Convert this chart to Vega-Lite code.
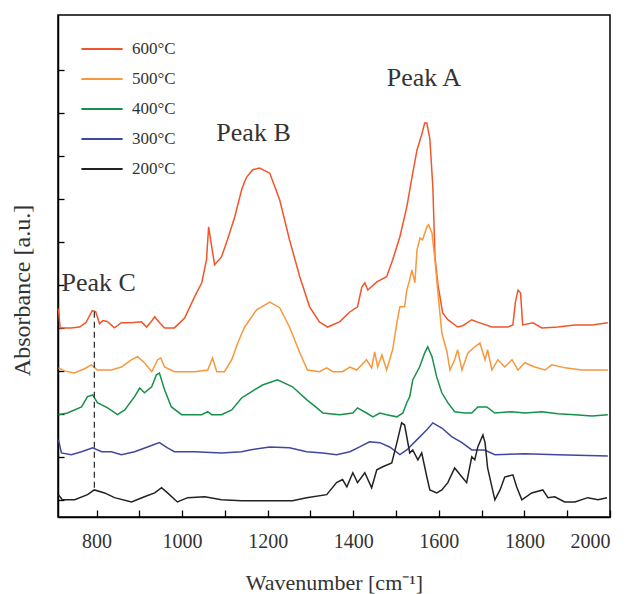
{
"$schema": "https://vega.github.io/schema/vega-lite/v6.json",
"width": 552, "height": 502,
"autosize": {"type": "none"},
"padding": {"left": 58, "top": 15, "right": 25, "bottom": 77},
"background": "white",
"config": {
  "view": {"stroke": "black", "strokeWidth": 1.5},
  "axis": {"domainColor": "black", "domainWidth": 1.5, "tickColor": "black", "tickWidth": 1.3, "grid": false}
},
"datasets": {
"spectra": [
{"t":"600°C","wn":711,"a":4.45},{"t":"600°C","wn":715,"a":4.0},{"t":"600°C","wn":740,"a":4.0},{"t":"600°C","wn":760,"a":4.02},{"t":"600°C","wn":775,"a":4.12},{"t":"600°C","wn":790,"a":4.40},{"t":"600°C","wn":798,"a":4.38},{"t":"600°C","wn":807,"a":4.10},{"t":"600°C","wn":815,"a":4.17},{"t":"600°C","wn":825,"a":4.15},{"t":"600°C","wn":842,"a":4.00},{"t":"600°C","wn":858,"a":4.12},{"t":"600°C","wn":880,"a":4.12},{"t":"600°C","wn":905,"a":4.14},{"t":"600°C","wn":917,"a":4.02},{"t":"600°C","wn":928,"a":4.15},{"t":"600°C","wn":936,"a":4.26},{"t":"600°C","wn":945,"a":4.15},{"t":"600°C","wn":959,"a":4.00},{"t":"600°C","wn":982,"a":4.00},{"t":"600°C","wn":1006,"a":4.23},{"t":"600°C","wn":1029,"a":4.72},{"t":"600°C","wn":1046,"a":5.05},{"t":"600°C","wn":1057,"a":5.58},{"t":"600°C","wn":1062,"a":6.35},{"t":"600°C","wn":1069,"a":5.9},{"t":"600°C","wn":1076,"a":5.47},{"t":"600°C","wn":1092,"a":5.65},{"t":"600°C","wn":1106,"a":6.05},{"t":"600°C","wn":1123,"a":6.58},{"t":"600°C","wn":1139,"a":7.21},{"t":"600°C","wn":1146,"a":7.40},{"t":"600°C","wn":1151,"a":7.51},{"t":"600°C","wn":1165,"a":7.68},{"t":"600°C","wn":1181,"a":7.72},{"t":"600°C","wn":1205,"a":7.60},{"t":"600°C","wn":1228,"a":6.98},{"t":"600°C","wn":1251,"a":6.05},{"t":"600°C","wn":1275,"a":5.19},{"t":"600°C","wn":1298,"a":4.49},{"t":"600°C","wn":1321,"a":4.14},{"t":"600°C","wn":1340,"a":4.02},{"t":"600°C","wn":1368,"a":4.14},{"t":"600°C","wn":1392,"a":4.37},{"t":"600°C","wn":1410,"a":4.49},{"t":"600°C","wn":1420,"a":4.95},{"t":"600°C","wn":1427,"a":5.05},{"t":"600°C","wn":1434,"a":4.88},{"t":"600°C","wn":1455,"a":5.07},{"t":"600°C","wn":1478,"a":5.19},{"t":"600°C","wn":1492,"a":5.58},{"t":"600°C","wn":1509,"a":6.12},{"t":"600°C","wn":1525,"a":6.81},{"t":"600°C","wn":1539,"a":7.60},{"t":"600°C","wn":1549,"a":8.14},{"t":"600°C","wn":1560,"a":8.5},{"t":"600°C","wn":1567,"a":8.77},{"t":"600°C","wn":1572,"a":8.77},{"t":"600°C","wn":1579,"a":8.40},{"t":"600°C","wn":1586,"a":7.28},{"t":"600°C","wn":1591,"a":5.65},{"t":"600°C","wn":1598,"a":5.0},{"t":"600°C","wn":1609,"a":4.35},{"t":"600°C","wn":1621,"a":4.19},{"t":"600°C","wn":1644,"a":4.02},{"t":"600°C","wn":1656,"a":4.05},{"t":"600°C","wn":1677,"a":4.19},{"t":"600°C","wn":1689,"a":4.14},{"t":"600°C","wn":1724,"a":4.02},{"t":"600°C","wn":1761,"a":4.02},{"t":"600°C","wn":1773,"a":4.07},{"t":"600°C","wn":1779,"a":4.6},{"t":"600°C","wn":1785,"a":4.88},{"t":"600°C","wn":1791,"a":4.81},{"t":"600°C","wn":1796,"a":4.07},{"t":"600°C","wn":1820,"a":4.12},{"t":"600°C","wn":1841,"a":4.00},{"t":"600°C","wn":1878,"a":4.02},{"t":"600°C","wn":1918,"a":4.07},{"t":"600°C","wn":1958,"a":4.07},{"t":"600°C","wn":1995,"a":4.12},

{"t":"500°C","wn":711,"a":3.07},{"t":"500°C","wn":725,"a":3.0},{"t":"500°C","wn":748,"a":2.95},{"t":"500°C","wn":772,"a":3.05},{"t":"500°C","wn":788,"a":3.14},{"t":"500°C","wn":802,"a":3.02},{"t":"500°C","wn":835,"a":3.02},{"t":"500°C","wn":858,"a":3.09},{"t":"500°C","wn":882,"a":3.26},{"t":"500°C","wn":896,"a":3.33},{"t":"500°C","wn":912,"a":3.19},{"t":"500°C","wn":929,"a":2.98},{"t":"500°C","wn":943,"a":3.26},{"t":"500°C","wn":950,"a":3.3},{"t":"500°C","wn":959,"a":3.09},{"t":"500°C","wn":982,"a":2.98},{"t":"500°C","wn":1029,"a":2.98},{"t":"500°C","wn":1060,"a":3.02},{"t":"500°C","wn":1071,"a":3.30},{"t":"500°C","wn":1081,"a":2.98},{"t":"500°C","wn":1099,"a":2.98},{"t":"500°C","wn":1116,"a":3.26},{"t":"500°C","wn":1130,"a":3.65},{"t":"500°C","wn":1146,"a":4.02},{"t":"500°C","wn":1158,"a":4.19},{"t":"500°C","wn":1174,"a":4.42},{"t":"500°C","wn":1205,"a":4.60},{"t":"500°C","wn":1228,"a":4.47},{"t":"500°C","wn":1251,"a":4.02},{"t":"500°C","wn":1275,"a":3.42},{"t":"500°C","wn":1293,"a":3.02},{"t":"500°C","wn":1321,"a":2.98},{"t":"500°C","wn":1338,"a":3.07},{"t":"500°C","wn":1352,"a":2.98},{"t":"500°C","wn":1375,"a":2.98},{"t":"500°C","wn":1392,"a":3.09},{"t":"500°C","wn":1408,"a":3.02},{"t":"500°C","wn":1431,"a":3.26},{"t":"500°C","wn":1443,"a":3.07},{"t":"500°C","wn":1450,"a":3.44},{"t":"500°C","wn":1457,"a":3.09},{"t":"500°C","wn":1467,"a":3.37},{"t":"500°C","wn":1478,"a":3.02},{"t":"500°C","wn":1492,"a":3.49},{"t":"500°C","wn":1502,"a":4.12},{"t":"500°C","wn":1509,"a":4.49},{"t":"500°C","wn":1520,"a":4.49},{"t":"500°C","wn":1525,"a":4.88},{"t":"500°C","wn":1532,"a":5.12},{"t":"500°C","wn":1537,"a":5.35},{"t":"500°C","wn":1544,"a":5.05},{"t":"500°C","wn":1549,"a":5.81},{"t":"500°C","wn":1556,"a":6.09},{"t":"500°C","wn":1562,"a":6.05},{"t":"500°C","wn":1572,"a":6.35},{"t":"500°C","wn":1576,"a":6.40},{"t":"500°C","wn":1584,"a":6.21},{"t":"500°C","wn":1591,"a":5.58},{"t":"500°C","wn":1598,"a":4.81},{"t":"500°C","wn":1607,"a":3.88},{"t":"500°C","wn":1619,"a":3.44},{"t":"500°C","wn":1626,"a":3.02},{"t":"500°C","wn":1637,"a":3.26},{"t":"500°C","wn":1644,"a":3.49},{"t":"500°C","wn":1654,"a":3.02},{"t":"500°C","wn":1668,"a":3.42},{"t":"500°C","wn":1684,"a":3.56},{"t":"500°C","wn":1696,"a":3.65},{"t":"500°C","wn":1708,"a":3.26},{"t":"500°C","wn":1714,"a":3.49},{"t":"500°C","wn":1724,"a":3.02},{"t":"500°C","wn":1738,"a":3.26},{"t":"500°C","wn":1754,"a":3.09},{"t":"500°C","wn":1771,"a":3.26},{"t":"500°C","wn":1785,"a":3.02},{"t":"500°C","wn":1801,"a":3.19},{"t":"500°C","wn":1824,"a":3.09},{"t":"500°C","wn":1848,"a":3.02},{"t":"500°C","wn":1864,"a":3.14},{"t":"500°C","wn":1895,"a":3.07},{"t":"500°C","wn":1934,"a":3.02},{"t":"500°C","wn":1972,"a":3.02},{"t":"500°C","wn":1995,"a":3.02},

{"t":"400°C","wn":711,"a":1.98},{"t":"400°C","wn":732,"a":2.02},{"t":"400°C","wn":765,"a":2.16},{"t":"400°C","wn":779,"a":2.40},{"t":"400°C","wn":791,"a":2.44},{"t":"400°C","wn":802,"a":2.26},{"t":"400°C","wn":826,"a":2.14},{"t":"400°C","wn":849,"a":1.98},{"t":"400°C","wn":866,"a":2.09},{"t":"400°C","wn":889,"a":2.40},{"t":"400°C","wn":901,"a":2.60},{"t":"400°C","wn":912,"a":2.49},{"t":"400°C","wn":929,"a":2.63},{"t":"400°C","wn":940,"a":2.91},{"t":"400°C","wn":947,"a":2.95},{"t":"400°C","wn":959,"a":2.56},{"t":"400°C","wn":975,"a":2.16},{"t":"400°C","wn":999,"a":1.98},{"t":"400°C","wn":1046,"a":1.98},{"t":"400°C","wn":1060,"a":2.05},{"t":"400°C","wn":1069,"a":1.98},{"t":"400°C","wn":1092,"a":1.98},{"t":"400°C","wn":1116,"a":2.09},{"t":"400°C","wn":1139,"a":2.37},{"t":"400°C","wn":1158,"a":2.49},{"t":"400°C","wn":1188,"a":2.67},{"t":"400°C","wn":1223,"a":2.79},{"t":"400°C","wn":1258,"a":2.63},{"t":"400°C","wn":1291,"a":2.33},{"t":"400°C","wn":1315,"a":2.14},{"t":"400°C","wn":1329,"a":2.02},{"t":"400°C","wn":1368,"a":1.98},{"t":"400°C","wn":1399,"a":2.02},{"t":"400°C","wn":1410,"a":2.14},{"t":"400°C","wn":1431,"a":2.02},{"t":"400°C","wn":1446,"a":1.93},{"t":"400°C","wn":1462,"a":2.02},{"t":"400°C","wn":1478,"a":1.98},{"t":"400°C","wn":1502,"a":1.93},{"t":"400°C","wn":1516,"a":2.02},{"t":"400°C","wn":1525,"a":2.26},{"t":"400°C","wn":1532,"a":2.40},{"t":"400°C","wn":1539,"a":2.79},{"t":"400°C","wn":1555,"a":3.09},{"t":"400°C","wn":1567,"a":3.42},{"t":"400°C","wn":1574,"a":3.56},{"t":"400°C","wn":1584,"a":3.33},{"t":"400°C","wn":1595,"a":2.86},{"t":"400°C","wn":1607,"a":2.49},{"t":"400°C","wn":1621,"a":2.26},{"t":"400°C","wn":1637,"a":2.05},{"t":"400°C","wn":1660,"a":2.02},{"t":"400°C","wn":1677,"a":2.02},{"t":"400°C","wn":1691,"a":2.16},{"t":"400°C","wn":1712,"a":2.16},{"t":"400°C","wn":1731,"a":2.02},{"t":"400°C","wn":1770,"a":2.05},{"t":"400°C","wn":1801,"a":2.02},{"t":"400°C","wn":1841,"a":2.05},{"t":"400°C","wn":1878,"a":2.00},{"t":"400°C","wn":1918,"a":1.98},{"t":"400°C","wn":1958,"a":1.95},{"t":"400°C","wn":1995,"a":1.98},

{"t":"300°C","wn":711,"a":1.40},{"t":"300°C","wn":718,"a":1.09},{"t":"300°C","wn":741,"a":1.05},{"t":"300°C","wn":765,"a":1.12},{"t":"300°C","wn":791,"a":1.21},{"t":"300°C","wn":812,"a":1.12},{"t":"300°C","wn":835,"a":1.12},{"t":"300°C","wn":858,"a":1.05},{"t":"300°C","wn":889,"a":1.12},{"t":"300°C","wn":919,"a":1.23},{"t":"300°C","wn":947,"a":1.33},{"t":"300°C","wn":966,"a":1.21},{"t":"300°C","wn":982,"a":1.12},{"t":"300°C","wn":1029,"a":1.12},{"t":"300°C","wn":1092,"a":1.09},{"t":"300°C","wn":1139,"a":1.12},{"t":"300°C","wn":1158,"a":1.16},{"t":"300°C","wn":1205,"a":1.23},{"t":"300°C","wn":1251,"a":1.21},{"t":"300°C","wn":1291,"a":1.12},{"t":"300°C","wn":1329,"a":1.09},{"t":"300°C","wn":1361,"a":1.05},{"t":"300°C","wn":1392,"a":1.12},{"t":"300°C","wn":1415,"a":1.23},{"t":"300°C","wn":1438,"a":1.35},{"t":"300°C","wn":1462,"a":1.33},{"t":"300°C","wn":1485,"a":1.23},{"t":"300°C","wn":1509,"a":1.05},{"t":"300°C","wn":1525,"a":1.16},{"t":"300°C","wn":1549,"a":1.40},{"t":"300°C","wn":1572,"a":1.63},{"t":"300°C","wn":1586,"a":1.79},{"t":"300°C","wn":1607,"a":1.67},{"t":"300°C","wn":1630,"a":1.47},{"t":"300°C","wn":1654,"a":1.33},{"t":"300°C","wn":1677,"a":1.16},{"t":"300°C","wn":1707,"a":1.16},{"t":"300°C","wn":1731,"a":1.05},{"t":"300°C","wn":1801,"a":1.07},{"t":"300°C","wn":1878,"a":1.05},{"t":"300°C","wn":1995,"a":1.02},

{"t":"200°C","wn":711,"a":0.12},{"t":"200°C","wn":720,"a":0.00},{"t":"200°C","wn":749,"a":0.00},{"t":"200°C","wn":779,"a":0.12},{"t":"200°C","wn":795,"a":0.23},{"t":"200°C","wn":819,"a":0.16},{"t":"200°C","wn":842,"a":0.05},{"t":"200°C","wn":882,"a":-0.05},{"t":"200°C","wn":912,"a":0.07},{"t":"200°C","wn":936,"a":0.16},{"t":"200°C","wn":952,"a":0.28},{"t":"200°C","wn":966,"a":0.16},{"t":"200°C","wn":989,"a":-0.05},{"t":"200°C","wn":1013,"a":0.05},{"t":"200°C","wn":1053,"a":0.07},{"t":"200°C","wn":1092,"a":0.00},{"t":"200°C","wn":1139,"a":-0.02},{"t":"200°C","wn":1258,"a":-0.02},{"t":"200°C","wn":1291,"a":0.05},{"t":"200°C","wn":1338,"a":0.12},{"t":"200°C","wn":1361,"a":0.40},{"t":"200°C","wn":1375,"a":0.47},{"t":"200°C","wn":1385,"a":0.30},{"t":"200°C","wn":1399,"a":0.63},{"t":"200°C","wn":1410,"a":0.40},{"t":"200°C","wn":1427,"a":0.63},{"t":"200°C","wn":1443,"a":0.28},{"t":"200°C","wn":1455,"a":0.70},{"t":"200°C","wn":1469,"a":0.77},{"t":"200°C","wn":1490,"a":0.86},{"t":"200°C","wn":1502,"a":1.33},{"t":"200°C","wn":1513,"a":1.79},{"t":"200°C","wn":1520,"a":1.74},{"t":"200°C","wn":1532,"a":1.09},{"t":"200°C","wn":1539,"a":1.16},{"t":"200°C","wn":1551,"a":0.93},{"t":"200°C","wn":1560,"a":1.09},{"t":"200°C","wn":1572,"a":0.53},{"t":"200°C","wn":1579,"a":0.23},{"t":"200°C","wn":1595,"a":0.16},{"t":"200°C","wn":1607,"a":0.23},{"t":"200°C","wn":1621,"a":0.40},{"t":"200°C","wn":1637,"a":0.74},{"t":"200°C","wn":1654,"a":0.53},{"t":"200°C","wn":1665,"a":0.40},{"t":"200°C","wn":1677,"a":1.00},{"t":"200°C","wn":1684,"a":0.93},{"t":"200°C","wn":1691,"a":1.23},{"t":"200°C","wn":1703,"a":1.51},{"t":"200°C","wn":1708,"a":1.33},{"t":"200°C","wn":1714,"a":0.74},{"t":"200°C","wn":1724,"a":0.30},{"t":"200°C","wn":1731,"a":0.00},{"t":"200°C","wn":1743,"a":0.23},{"t":"200°C","wn":1754,"a":0.53},{"t":"200°C","wn":1773,"a":0.58},{"t":"200°C","wn":1782,"a":0.30},{"t":"200°C","wn":1794,"a":0.00},{"t":"200°C","wn":1817,"a":0.16},{"t":"200°C","wn":1843,"a":0.23},{"t":"200°C","wn":1855,"a":0.05},{"t":"200°C","wn":1871,"a":0.07},{"t":"200°C","wn":1894,"a":-0.05},{"t":"200°C","wn":1918,"a":-0.05},{"t":"200°C","wn":1948,"a":0.05},{"t":"200°C","wn":1972,"a":0.00},{"t":"200°C","wn":1993,"a":0.05}
],
"peaks": [
{"label":"Peak A","wn":1565,"a":9.81},
{"label":"Peak B","wn":1167,"a":8.53},
{"label":"Peak C","wn":805,"a":5.05}
],
"marker": [{"wn":795,"lo":0.28,"hi":4.4}]
},
"layer": [
{
  "data": {"name": "spectra"},
  "mark": {"type": "line", "strokeWidth": 1.5},
  "encoding": {
    "x": {"field": "wn", "type": "quantitative", "scale": {"domain": [710, 2000], "nice": false, "zero": false},
      "axis": {"orient": "bottom", "values": [800,900,1000,1100,1200,1300,1400,1500,1600,1700,1800,1900,2000], "format": "d",
        "labelExpr": "datum.value % 200 === 0 ? datum.label : ''", "tickSize": -7, "labelPadding": 21,
        "labelFont": "Liberation Serif", "labelFontSize": 20, "labelColor": "#333",
        "title": "Wavenumber [cm⁻¹]", "titleFont": "Liberation Serif", "titleFontSize": 22, "titleFontWeight": "normal", "titleColor": "#333", "titlePadding": 21}},
    "y": {"field": "a", "type": "quantitative", "scale": {"domain": [-0.4, 11.28], "nice": false, "zero": false},
      "axis": {"orient": "left", "values": [0,1,2,3,4,5,6,7,8,9,10], "tickSize": -6, "labels": false,
        "title": "Absorbance [a.u.]", "titleFont": "Liberation Serif", "titleFontSize": 24, "titleFontWeight": "normal", "titleColor": "#333", "titleX": -24, "titleY": 275}},
    "color": {"field": "t", "type": "nominal",
      "scale": {"domain": ["600°C","500°C","400°C","300°C","200°C"], "range": ["#f0562a","#f8973b","#17904c","#3f47a0","#222222"]},
      "legend": {"orient": "none", "legendX": 22, "legendY": 12, "title": null, "padding": 0, "symbolType": "stroke", "symbolSize": 1700, "symbolStrokeWidth": 2, "labelFont": "Liberation Serif", "labelFontSize": 17, "labelColor": "#333", "labelOffset": 8, "rowPadding": 0}}
  }
},
{
  "data": {"name": "marker"},
  "mark": {"type": "rule", "strokeDash": [6, 4], "color": "#333", "strokeWidth": 1.3},
  "encoding": {
    "x": {"field": "wn", "type": "quantitative"},
    "y": {"field": "lo", "type": "quantitative"},
    "y2": {"field": "hi"}
  }
},
{
  "data": {"name": "peaks"},
  "mark": {"type": "text", "font": "Liberation Serif", "fontSize": 26, "color": "#333"},
  "encoding": {
    "x": {"field": "wn", "type": "quantitative"},
    "y": {"field": "a", "type": "quantitative"},
    "text": {"field": "label"}
  }
}
]
}
